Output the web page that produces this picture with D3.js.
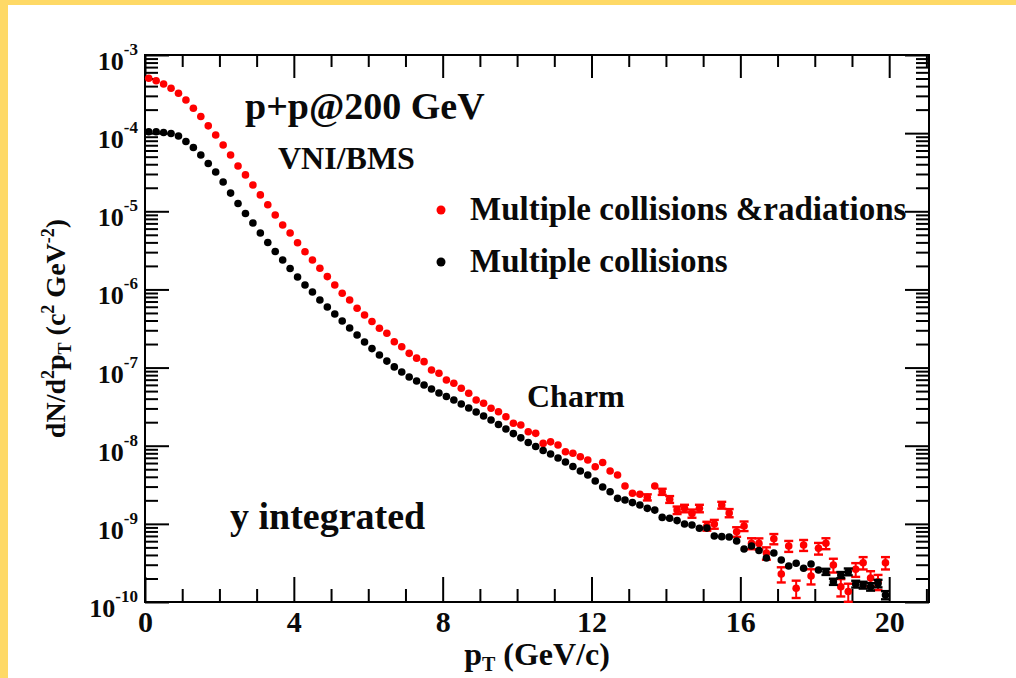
<!DOCTYPE html>
<html>
<head>
<meta charset="utf-8">
<script src="https://cdn.jsdelivr.net/npm/d3@7"></script>
<style>
  body { margin: 0; background: #fff; }
  svg text { font-family: "Liberation Serif", "DejaVu Serif", serif; font-weight: bold; fill: #0a0a0a; }
</style>
</head>
<body>
<div id="chart"></div>
<script>
// bin centres in pT (GeV/c)
const pT = [0.1,0.3,0.5,0.7,0.9,1.1,1.3,1.5,1.7,1.9,2.1,2.3,2.5,2.7,2.9,3.1,3.3,3.5,3.7,3.9,
  4.1,4.3,4.5,4.7,4.9,5.1,5.3,5.5,5.7,5.9,6.1,6.3,6.5,6.7,6.9,7.1,7.3,7.5,7.7,7.9,
  8.1,8.3,8.5,8.7,8.9,9.1,9.3,9.5,9.7,9.9,10.1,10.3,10.5,10.7,10.9,11.1,11.3,11.5,11.7,11.9,
  12.1,12.3,12.5,12.7,12.9,13.1,13.3,13.5,13.7,13.9,14.1,14.3,14.5,14.7,14.9,15.1,15.3,15.5,15.7,15.9,
  16.1,16.3,16.5,16.7,16.9,17.1,17.3,17.5,17.7,17.9,18.1,18.3,18.5,18.7,18.9,19.1,19.3,19.5,19.7,19.9];

// Multiple collisions & radiations
const radValues = [5.04e-4,4.69e-4,4.26e-4,3.75e-4,3.24e-4,2.65e-4,2.08e-4,1.63e-4,1.24e-4,9.46e-5,
  7.05e-5,5.25e-5,3.80e-5,2.92e-5,2.17e-5,1.62e-5,1.21e-5,8.97e-6,6.68e-6,5.27e-6,
  3.96e-6,3.04e-6,2.38e-6,1.87e-6,1.46e-6,1.14e-6,8.93e-7,7.33e-7,5.74e-7,4.71e-7,
  3.89e-7,3.18e-7,2.75e-7,2.14e-7,1.85e-7,1.52e-7,1.32e-7,1.19e-7,9.31e-8,8.45e-8,
  6.94e-8,6.30e-8,5.43e-8,4.69e-8,3.85e-8,3.49e-8,3.01e-8,2.72e-8,2.35e-8,1.94e-8,
  1.84e-8,1.51e-8,1.44e-8,1.07e-8,1.12e-8,1.02e-8,8.38e-9,8.00e-9,7.23e-9,6.56e-9,
  5.38e-9,6.09e-9,4.74e-9,4.22e-9,3.05e-9,2.46e-9,2.39e-9,2.19e-9,3.05e-9,2.58e-9,
  2.06e-9,1.50e-9,1.58e-9,1.36e-9,1.58e-9,9.40e-10,9.95e-10,1.74e-9,1.38e-9,7.94e-10,
  9.40e-10,5.64e-10,5.62e-10,4.24e-10,6.44e-10,2.28e-10,5.21e-10,1.50e-10,5.36e-10,2.15e-10,
  4.87e-10,5.64e-10,2.98e-10,1.57e-10,1.36e-10,2.62e-10,3.18e-10,2.03e-10,1.82e-10,3.18e-10];
const radRelErr = [0,0,0,0,0,0,0,0,0,0, 0,0,0,0,0,0,0,0,0,0, 0,0,0,0,0,0,0,0,0,0,
  0,0,0,0,0,0,0,0,0,0, 0.02,0.02,0.02,0.02,0.02,0.03,0.03,0.03,0.03,0.03,
  0.04,0.04,0.04,0.04,0.04,0.05,0.05,0.05,0.05,0.05,
  0.06,0.06,0.07,0.07,0.08,0.08,0.08,0.09,0.08,0.09,
  0.10,0.11,0.11,0.12,0.11,0.13,0.13,0.10,0.12,0.14,
  0.14,0.16,0.16,0.18,0.15,0.22,0.16,0.25,0.16,0.22,
  0.17,0.16,0.20,0.25,0.26,0.20,0.18,0.22,0.22,0.18];

// Multiple collisions
const collValues = [1.04e-4,1.04e-4,1.02e-4,9.90e-5,9.21e-5,7.82e-5,6.56e-5,5.25e-5,4.09e-5,3.18e-5,
  2.37e-5,1.71e-5,1.26e-5,9.38e-6,7.08e-6,5.27e-6,3.99e-6,3.06e-6,2.38e-6,1.85e-6,
  1.44e-6,1.14e-6,9.27e-7,7.33e-7,5.96e-7,4.85e-7,3.94e-7,3.21e-7,2.61e-7,2.12e-7,
  1.75e-7,1.45e-7,1.21e-7,1.02e-7,8.77e-8,7.57e-8,6.73e-8,5.98e-8,5.32e-8,4.73e-8,
  4.27e-8,3.85e-8,3.42e-8,3.04e-8,2.70e-8,2.40e-8,2.13e-8,1.87e-8,1.64e-8,1.43e-8,
  1.26e-8,1.10e-8,9.77e-9,8.69e-9,7.83e-9,6.97e-9,6.19e-9,5.42e-9,4.74e-9,4.22e-9,
  3.53e-9,2.96e-9,2.58e-9,2.12e-9,2.02e-9,1.87e-9,1.74e-9,1.58e-9,1.50e-9,1.21e-9,
  1.18e-9,1.10e-9,9.95e-10,9.66e-10,8.77e-10,8.83e-10,7.00e-10,6.86e-10,6.79e-10,6.04e-10,
  4.77e-10,5.21e-10,4.56e-10,3.66e-10,4.24e-10,3.44e-10,2.89e-10,3.13e-10,2.70e-10,3.06e-10,
  2.57e-10,2.44e-10,1.82e-10,2.22e-10,2.44e-10,1.70e-10,1.65e-10,1.57e-10,1.73e-10,1.23e-10];
const collRelErr = [0,0,0,0,0,0,0,0,0,0, 0,0,0,0,0,0,0,0,0,0, 0,0,0,0,0,0,0,0,0,0,
  0,0,0,0,0,0,0,0,0,0, 0,0,0,0,0,0,0,0,0,0,
  0.02,0.02,0.02,0.02,0.02,0.02,0.02,0.03,0.03,0.03,
  0.03,0.03,0.03,0.03,0.03,0.04,0.04,0.04,0.04,0.04,
  0.04,0.04,0.05,0.05,0.05,0.05,0.05,0.05,0.05,0.06,
  0.06,0.06,0.06,0.07,0.07,0.07,0.07,0.08,0.08,0.08,
  0.08,0.09,0.09,0.09,0.10,0.10,0.10,0.11,0.11,0.12];

const xMajorTicks = [0, 4, 8, 12, 16, 20];
const yDecades = [1e-10, 1e-9, 1e-8, 1e-7, 1e-6, 1e-5, 1e-4, 1e-3];

const width = 1016, height = 678;
const margin = { top: 55, right: 87, bottom: 76, left: 145 };

const svg = d3.select("#chart").append("svg")
  .attr("width", width).attr("height", height);

svg.append("rect").attr("width", width).attr("height", height).attr("fill", "#fff");
// yellow page border strips
svg.append("rect").attr("x", 0).attr("y", 0).attr("width", width).attr("height", 5).attr("fill", "#fed966");
svg.append("rect").attr("x", 0).attr("y", 0).attr("width", 8).attr("height", height).attr("fill", "#fed966");

const x = d3.scaleLinear().domain([0, 21.07]).range([margin.left, width - margin.right]);
const y = d3.scaleLog().domain([1e-10, 1e-3]).range([height - margin.bottom, margin.top]);

const x0 = x.range()[0], x1 = x.range()[1];
const y0 = y.range()[0], y1 = y.range()[1];

const minorX = d3.range(0, 21.07, 1).filter(v => v % 4 !== 0);
const minorY = y.ticks().filter(v => !yDecades.some(d => Math.abs(d - v) / d < 1e-6));

function styleAxis(g) {
  g.select(".domain").remove();
  g.selectAll("line").attr("stroke", "#000").attr("stroke-width", 2);
}

// bottom axis
svg.append("g").attr("transform", `translate(0,${y0})`)
  .call(d3.axisBottom(x).tickValues(xMajorTicks).tickSize(-25).tickPadding(9).tickFormat(d3.format("d")))
  .call(styleAxis)
  .call(g => g.selectAll("text").attr("font-size", 30).attr("fill", "#0a0a0a")
    .style("font-family", "Liberation Serif").style("font-weight", "bold"));
svg.append("g").attr("transform", `translate(0,${y0})`)
  .call(d3.axisBottom(x).tickValues(minorX).tickSize(-13).tickFormat(""))
  .call(styleAxis);
// top axis
svg.append("g").attr("transform", `translate(0,${y1})`)
  .call(d3.axisTop(x).tickValues(xMajorTicks).tickSize(-23).tickFormat(""))
  .call(styleAxis);
svg.append("g").attr("transform", `translate(0,${y1})`)
  .call(d3.axisTop(x).tickValues(minorX).tickSize(-12).tickFormat(""))
  .call(styleAxis);
// left axis
svg.append("g").attr("transform", `translate(${x0},0)`)
  .call(d3.axisLeft(y).tickValues(yDecades).tickSize(-24).tickFormat(""))
  .call(styleAxis);
svg.append("g").attr("transform", `translate(${x0},0)`)
  .call(d3.axisLeft(y).tickValues(minorY).tickSize(-13).tickFormat(""))
  .call(styleAxis);
// right axis
svg.append("g").attr("transform", `translate(${x1},0)`)
  .call(d3.axisRight(y).tickValues(yDecades).tickSize(-24).tickFormat(""))
  .call(styleAxis);
svg.append("g").attr("transform", `translate(${x1},0)`)
  .call(d3.axisRight(y).tickValues(minorY).tickSize(-13).tickFormat(""))
  .call(styleAxis);

// y tick labels 10^n
const yLab = svg.append("g").selectAll("text").data(yDecades).enter().append("text")
  .attr("x", x0 - 7)
  .attr("y", d => y(d) + 15)
  .attr("text-anchor", "end")
  .attr("font-size", 26);
yLab.append("tspan").text("10");
yLab.append("tspan").attr("dy", -15).attr("font-size", 17).text(d => Math.round(Math.log10(d)));

// frame
svg.append("rect").attr("x", x0).attr("y", y1).attr("width", x1 - x0).attr("height", y0 - y1)
  .attr("fill", "none").attr("stroke", "#000").attr("stroke-width", 2);

// data
function drawSeries(values, relErr, color) {
  const pts = pT.map((p, i) => ({ p, v: values[i], e: relErr[i] }));
  const g = svg.append("g");
  const withErr = pts.filter(d => d.e > 0);
  g.selectAll(".eb").data(withErr).enter().append("line")
    .attr("x1", d => x(d.p)).attr("x2", d => x(d.p))
    .attr("y1", d => y(d.v * (1 + d.e))).attr("y2", d => y(d.v * (1 - d.e)))
    .attr("stroke", color).attr("stroke-width", 2);
  ["hi", "lo"].forEach(k => {
    g.selectAll(".cap" + k).data(withErr.filter(d => Math.abs(y(d.v * (1 - d.e)) - y(d.v)) > 3)).enter().append("line")
      .attr("x1", d => x(d.p) - 4.5).attr("x2", d => x(d.p) + 4.5)
      .attr("y1", d => y(d.v * (k === "hi" ? 1 + d.e : 1 - d.e)))
      .attr("y2", d => y(d.v * (k === "hi" ? 1 + d.e : 1 - d.e)))
      .attr("stroke", color).attr("stroke-width", 2.4);
  });
  g.selectAll("circle").data(pts).enter().append("circle")
    .attr("cx", d => x(d.p)).attr("cy", d => y(d.v)).attr("r", 3.8)
    .attr("fill", color);
}
drawSeries(radValues, radRelErr, "#ff0000");
drawSeries(collValues, collRelErr, "#000000");

// texts
svg.append("text").attr("x", 245).attr("y", 119).attr("font-size", 38).text("p+p@200 GeV");
svg.append("text").attr("x", 278).attr("y", 169).attr("font-size", 32).text("VNI/BMS");
svg.append("text").attr("x", 527).attr("y", 407).attr("font-size", 32).text("Charm");
svg.append("text").attr("x", 230).attr("y", 529).attr("font-size", 38).text("y integrated");

// legend
const legend = [
  { label: "Multiple collisions &radiations", color: "#ff0000", cy: 210 },
  { label: "Multiple collisions", color: "#000000", cy: 262 }
];
const lg = svg.append("g").selectAll("g").data(legend).enter().append("g");
lg.append("circle").attr("cx", 441).attr("cy", d => d.cy).attr("r", 4.5).attr("fill", d => d.color);
lg.append("text").attr("x", 470).attr("y", d => d.cy + 10).attr("font-size", 33).text(d => d.label);

// axis titles
const xt = svg.append("text").attr("x", (x0 + x1) / 2).attr("y", 665).attr("text-anchor", "middle").attr("font-size", 32);
xt.append("tspan").text("p");
xt.append("tspan").attr("font-size", 20).attr("dy", 6).text("T");
xt.append("tspan").attr("dy", -6).text(" (GeV/c)");

const yt = svg.append("text")
  .attr("transform", `translate(65,${(y0 + y1) / 2}) rotate(-90)`)
  .attr("text-anchor", "middle").attr("font-size", 28);
yt.append("tspan").text("dN/d");
yt.append("tspan").attr("font-size", 18).attr("dy", -11).text("2");
yt.append("tspan").attr("dy", 11).text("p");
yt.append("tspan").attr("font-size", 18).attr("dy", 6).text("T");
yt.append("tspan").attr("dy", -6).text(" (c");
yt.append("tspan").attr("font-size", 18).attr("dy", -11).text("2");
yt.append("tspan").attr("dy", 11).text(" GeV");
yt.append("tspan").attr("font-size", 18).attr("dy", -11).text("-2");
yt.append("tspan").attr("dy", 11).text(")");
</script>
</body>
</html>
